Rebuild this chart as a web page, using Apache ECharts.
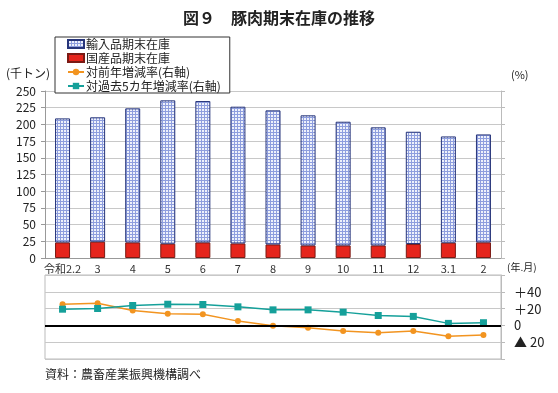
<!DOCTYPE html>
<html><head><meta charset="utf-8">
<script src="https://cdn.jsdelivr.net/npm/echarts@6/dist/echarts.min.js"></script>
<style>html,body{margin:0;padding:0;background:#fff}#c{width:558px;height:393px}</style>
</head><body><div id="c"></div>
<script>
const categories = ['令和2.2','3','4','5','6','7','8','9','10','11','12','3.1','2'];
const importStock = [185.7,186.2,200.7,214.6,211.7,204.7,200.7,194.8,185.2,176.8,168.1,159.1,161.6];
const domesticStock = [23.3,24.4,23.3,21.4,23.3,21.8,20.3,18.8,18.8,18.8,20.9,22.9,23.4];
const yoyRate = [25.2,26.4,17.8,13.8,13.4,5.1,-0.4,-2.8,-6.7,-8.7,-6.7,-13.0,-11.4];
const fiveYearRate = [19.3,20.1,23.7,25.2,24.9,22.1,18.5,18.5,15.8,11.8,10.7,2.4,3.2];
const rightTickLabels = {'40':'＋40','20':'＋20','0':'0','-20':'▲ 20'};

const F = '"Noto Sans CJK JP", "Noto Sans", sans-serif';
const pc = document.createElement('canvas');
pc.width = 3; pc.height = 3;
const g = pc.getContext('2d');
g.fillStyle = '#eef1fb'; g.fillRect(0,0,3,3);
g.fillStyle = '#8e9ede'; g.fillRect(0,0,3,1); g.fillRect(0,0,1,3);

const chart = echarts.init(document.getElementById('c'), null, {renderer:'canvas'});
const gridColor = '#c8c8c8';
chart.setOption({
  animation:false,
  textStyle:{fontFamily:F},
  title:{text:'図９　豚肉期末在庫の推移', left:'center', top:5,
    textStyle:{fontFamily:F, fontSize:16, fontWeight:'bold', color:'#222'}},
  legend:{
    orient:'vertical', left:55, top:37, itemGap:0, itemWidth:16, itemHeight:8,
    padding:[0,9,0,12], borderColor:'#333', borderWidth:1, backgroundColor:'#fff',
    data:[{name:'輸入品期末在庫', icon:'rect'},{name:'国産品期末在庫', icon:'rect'},'対前年増減率(右軸)','対過去5カ年増減率(右軸)'],
    textStyle:{fontFamily:F, fontSize:12, lineHeight:14, color:'#222', padding:[0,0,0,-3]}, z:10
  },
  grid:[
    {left:45, right:57, top:91, height:167},
    {left:45, right:57, top:275, height:84, show:true, borderColor:'#bbb', borderWidth:1}
  ],
  xAxis:[
    {type:'category', gridIndex:0, data:categories,
     axisLine:{lineStyle:{color:'#999'}}, axisTick:{length:4, lineStyle:{color:'#999'}},
     axisLabel:{fontSize:11, color:'#333', margin:5, interval:0}},
    {type:'category', gridIndex:1, data:categories, show:false}
  ],
  yAxis:[
    {type:'value', gridIndex:0, min:0, max:250, interval:25,
     axisLine:{show:true, lineStyle:{color:'#999'}}, axisTick:{show:true, length:4, lineStyle:{color:'#999'}},
     axisLabel:{fontSize:12, color:'#222', margin:9},
     splitLine:{lineStyle:{color:gridColor}}},
    {type:'value', gridIndex:0, position:'right', min:0, max:250, interval:25,
     axisLine:{show:true, lineStyle:{color:'#bbb'}}, axisTick:{show:true, length:4, lineStyle:{color:'#bbb'}},
     axisLabel:{show:false}, splitLine:{show:false}},
    {type:'value', gridIndex:1, position:'right', min:-40, max:60, interval:20,
     axisLine:{show:true, lineStyle:{color:'#bbb'}}, axisTick:{show:true, length:4, lineStyle:{color:'#bbb'}},
     axisLabel:{fontSize:13, color:'#222', margin:13, formatter:v=>rightTickLabels[String(v)]||''},
     splitLine:{lineStyle:{color:gridColor}}}
  ],
  series:[
    {name:'国産品期末在庫', type:'bar', stack:'s', xAxisIndex:0, yAxisIndex:0, barWidth:15,
     data:domesticStock, itemStyle:{color:'#e5251c', borderColor:'#7a1a14', borderWidth:1}},
    {name:'輸入品期末在庫', type:'bar', stack:'s', xAxisIndex:0, yAxisIndex:0, barWidth:15,
     data:importStock, itemStyle:{color:{image:pc, repeat:'repeat'}, borderColor:'#27357a', borderWidth:1}},
    {name:'対前年増減率(右軸)', type:'line', xAxisIndex:1, yAxisIndex:2, data:yoyRate,
     symbol:'circle', symbolSize:6, color:'#f29420', lineStyle:{width:1.5, color:'#f29420'},
     markLine:{silent:true, symbol:'none', label:{show:false}, lineStyle:{color:'#000', width:2, type:'solid'}, data:[{yAxis:0}]}},
    {name:'対過去5カ年増減率(右軸)', type:'line', xAxisIndex:1, yAxisIndex:2, data:fiveYearRate,
     symbol:'rect', symbolSize:7, color:'#15a09a', lineStyle:{width:1.5, color:'#15a09a'}}
  ],
  graphic:[
    {type:'text', left:6, top:67, style:{text:'(千トン)', font:'12px '+F, fill:'#222'}},
    {type:'text', left:511, top:69, style:{text:'(%)', font:'11px '+F, fill:'#222'}},
    {type:'text', left:507, top:262, style:{text:'(年.月)', font:'10px '+F, fill:'#222'}},
    {type:'text', left:45, top:368, style:{text:'資料：農畜産業振興機構調べ', font:'12px '+F, fill:'#222'}}
  ]
});
</script></body></html>
